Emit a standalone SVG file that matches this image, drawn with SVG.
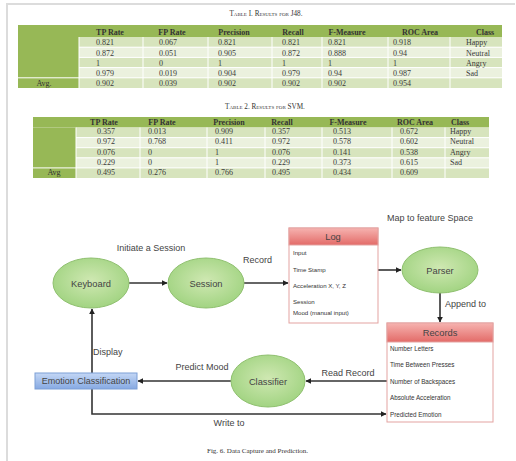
<svg xmlns="http://www.w3.org/2000/svg" width="516" height="461" viewBox="0 0 516 461">
  <defs>
    <radialGradient id="gEll" cx="50%" cy="45%" r="60%">
      <stop offset="0" stop-color="#cfe8b2"/>
      <stop offset="1" stop-color="#9ed27e"/>
    </radialGradient>
    <linearGradient id="gHead" x1="0" y1="0" x2="0" y2="1">
      <stop offset="0" stop-color="#f6b3b0"/>
      <stop offset="1" stop-color="#e36b68"/>
    </linearGradient>
    <linearGradient id="gBlue" x1="0" y1="0" x2="0" y2="1">
      <stop offset="0" stop-color="#c4d7f5"/>
      <stop offset="1" stop-color="#86a9e2"/>
    </linearGradient>
    <marker id="arr" viewBox="0 0 10 10" refX="9" refY="5" markerWidth="6" markerHeight="6" markerUnits="userSpaceOnUse" orient="auto">
      <path d="M0,0 L10,5 L0,10 z" fill="#222"/>
    </marker>
  </defs>
  <style>
    .frame { stroke: #dcdcdc; stroke-width: 2; fill: none; }
    .title { font-family: "Liberation Serif", serif; font-size: 7.2px; font-variant: small-caps; fill: #333; text-anchor: middle; }
    .cap { font-family: "Liberation Serif", serif; font-size: 7px; fill: #333; }
    .hd { font-family: "Liberation Serif", serif; font-size: 8px; font-weight: bold; fill: #333; text-anchor: middle; }
    .td { font-family: "Liberation Serif", serif; font-size: 8px; fill: #3a3a3a; }
    .tdc { font-family: "Liberation Serif", serif; font-size: 8px; fill: #333; text-anchor: middle; }
    .dark { fill: #97b856; }
    .lt1 { fill: #d7e4bd; }
    .lt2 { fill: #ebf1de; }
    .sep { stroke: #ffffff; stroke-width: 1; }
    .ell { fill: url(#gEll); stroke: #8fc06f; stroke-width: 1; }
    .nl { font-family: "Liberation Sans", Arial, sans-serif; font-size: 9.3px; fill: #444; text-anchor: middle; }
    .el { font-family: "Liberation Sans", Arial, sans-serif; font-size: 9px; fill: #444; }
    .row { font-family: "Liberation Sans", Arial, sans-serif; font-size: 6.1px; fill: #333; }
    .row2 { font-family: "Liberation Sans", Arial, sans-serif; font-size: 6.3px; fill: #333; }
    .box { fill: #ffffff; stroke: #e3a3a1; stroke-width: 1; }
    .head { fill: url(#gHead); stroke: #e3a3a1; stroke-width: 1; }
    .edge { stroke: #333; stroke-width: 1.6; fill: none; marker-end: url(#arr); }
  </style>

  <!-- page frame -->
  <path class="frame" d="M7,461 L7,4 L515,4"/>

  <!-- Table 1: J48 results -->
  <g id="table1">
    <text class="title" x="266" y="16">Table I. Results for J48.</text>
    <rect class="dark" x="18" y="25" width="484" height="12"/>
    <rect class="dark" x="18" y="37" width="61" height="51"/>
    <rect class="lt1" x="79" y="37" width="423" height="10.2"/>
    <rect class="lt2" x="79" y="47.2" width="423" height="10.2"/>
    <rect class="lt1" x="79" y="57.4" width="423" height="10.2"/>
    <rect class="lt2" x="79" y="67.6" width="423" height="10.2"/>
    <rect class="lt1" x="79" y="77.8" width="423" height="10.2"/>
    <g class="sep">
      <line x1="79" y1="47.2" x2="502" y2="47.2"/>
      <line x1="79" y1="57.4" x2="502" y2="57.4"/>
      <line x1="79" y1="67.6" x2="502" y2="67.6"/>
      <line x1="18" y1="77.8" x2="502" y2="77.8"/>
      <line x1="143" y1="37" x2="143" y2="88"/>
      <line x1="208" y1="37" x2="208" y2="88"/>
      <line x1="272" y1="37" x2="272" y2="88"/>
      <line x1="322" y1="37" x2="322" y2="88"/>
      <line x1="388" y1="37" x2="388" y2="88"/>
      <line x1="450" y1="37" x2="450" y2="88"/>
      <line x1="79" y1="37" x2="79" y2="88"/>
    </g>
    <text class="hd" x="110" y="34.5">TP Rate</text>
    <text class="hd" x="172" y="34.5">FP Rate</text>
    <text class="hd" x="234" y="34.5">Precision</text>
    <text class="hd" x="293" y="34.5">Recall</text>
    <text class="hd" x="347" y="34.5">F-Measure</text>
    <text class="hd" x="420" y="34.5">ROC Area</text>
    <text class="hd" x="485" y="34.5">Class</text>
    <g class="td">
      <text x="96" y="45.3">0.821</text><text x="159" y="45.3">0.067</text><text x="218" y="45.3">0.821</text><text x="282" y="45.3">0.821</text><text x="328" y="45.3">0.821</text><text x="393" y="45.3">0.918</text><text x="466" y="45.3">Happy</text>
      <text x="96" y="55.5">0.872</text><text x="159" y="55.5">0.051</text><text x="218" y="55.5">0.905</text><text x="282" y="55.5">0.872</text><text x="328" y="55.5">0.888</text><text x="393" y="55.5">0.94</text><text x="466" y="55.5">Neutral</text>
      <text x="96" y="65.7">1</text><text x="159" y="65.7">0</text><text x="218" y="65.7">1</text><text x="282" y="65.7">1</text><text x="328" y="65.7">1</text><text x="393" y="65.7">1</text><text x="466" y="65.7">Angry</text>
      <text x="96" y="75.9">0.979</text><text x="159" y="75.9">0.019</text><text x="218" y="75.9">0.904</text><text x="282" y="75.9">0.979</text><text x="328" y="75.9">0.94</text><text x="393" y="75.9">0.987</text><text x="466" y="75.9">Sad</text>
      <text x="96" y="86">0.902</text><text x="159" y="86">0.039</text><text x="218" y="86">0.902</text><text x="282" y="86">0.902</text><text x="328" y="86">0.902</text><text x="393" y="86">0.954</text>
    </g>
    <text class="tdc" x="44" y="86">Avg.</text>
  </g>

  <!-- Table 2: SVM results -->
  <g id="table2">
    <text class="title" x="265" y="109">Table 2. Results for SVM.</text>
    <rect class="dark" x="33" y="117" width="456" height="10.5"/>
    <rect class="dark" x="33" y="127.5" width="43" height="50.5"/>
    <rect class="lt1" x="76" y="127.5" width="413" height="10.1"/>
    <rect class="lt2" x="76" y="137.6" width="413" height="10.1"/>
    <rect class="lt1" x="76" y="147.7" width="413" height="10.1"/>
    <rect class="lt2" x="76" y="157.8" width="413" height="10.1"/>
    <rect class="lt1" x="76" y="167.9" width="413" height="10.1"/>
    <g class="sep">
      <line x1="76" y1="137.6" x2="489" y2="137.6"/>
      <line x1="76" y1="147.7" x2="489" y2="147.7"/>
      <line x1="76" y1="157.8" x2="489" y2="157.8"/>
      <line x1="33" y1="167.9" x2="489" y2="167.9"/>
      <line x1="140" y1="127.5" x2="140" y2="178"/>
      <line x1="207" y1="127.5" x2="207" y2="178"/>
      <line x1="265" y1="127.5" x2="265" y2="178"/>
      <line x1="322" y1="127.5" x2="322" y2="178"/>
      <line x1="392" y1="127.5" x2="392" y2="178"/>
      <line x1="445" y1="127.5" x2="445" y2="178"/>
      <line x1="76" y1="127.5" x2="76" y2="178"/>
    </g>
    <text class="hd" x="104" y="124.5">TP Rate</text>
    <text class="hd" x="162" y="124.5">FP Rate</text>
    <text class="hd" x="229" y="124.5">Precision</text>
    <text class="hd" x="282" y="124.5">Recall</text>
    <text class="hd" x="348" y="124.5">F-Measure</text>
    <text class="hd" x="415" y="124.5">ROC Area</text>
    <text class="hd" x="460" y="124.5">Class</text>
    <g class="td">
      <text x="97" y="134.3">0.357</text><text x="148" y="134.3">0.013</text><text x="215" y="134.3">0.909</text><text x="272" y="134.3">0.357</text><text x="333" y="134.3">0.513</text><text x="400" y="134.3">0.672</text><text x="450" y="134.3">Happy</text>
      <text x="97" y="144.4">0.972</text><text x="148" y="144.4">0.768</text><text x="215" y="144.4">0.411</text><text x="272" y="144.4">0.972</text><text x="333" y="144.4">0.578</text><text x="400" y="144.4">0.602</text><text x="450" y="144.4">Neutral</text>
      <text x="97" y="154.5">0.076</text><text x="148" y="154.5">0</text><text x="215" y="154.5">1</text><text x="272" y="154.5">0.076</text><text x="333" y="154.5">0.141</text><text x="400" y="154.5">0.538</text><text x="450" y="154.5">Angry</text>
      <text x="97" y="164.6">0.229</text><text x="148" y="164.6">0</text><text x="215" y="164.6">1</text><text x="272" y="164.6">0.229</text><text x="333" y="164.6">0.373</text><text x="400" y="164.6">0.615</text><text x="450" y="164.6">Sad</text>
      <text x="97" y="174.8">0.495</text><text x="148" y="174.8">0.276</text><text x="215" y="174.8">0.766</text><text x="272" y="174.8">0.495</text><text x="333" y="174.8">0.434</text><text x="400" y="174.8">0.609</text>
    </g>
    <text class="tdc" x="54" y="174.8">Avg</text>
  </g>

  <!-- connectors -->
  <g id="connectors">
    <path class="edge" d="M129,283 L167,283"/>
    <path class="edge" d="M244,283 L288,283"/>
    <path class="edge" d="M378,270 L401,270"/>
    <path class="edge" d="M440,293 L440,322"/>
    <path class="edge" d="M387,381 L306,381"/>
    <path class="edge" d="M231,381 L138,381"/>
    <path class="edge" d="M92,373 L92,309"/>
    <path class="edge" d="M92,389 L92,414 L386,414"/>
    <text class="el" x="151" y="251" text-anchor="middle">Initiate a Session</text>
    <text class="el" x="243" y="263">Record</text>
    <text class="el" x="430" y="221" text-anchor="middle">Map to feature Space</text>
    <text class="el" x="445" y="307">Append to</text>
    <text class="el" x="348" y="376" text-anchor="middle">Read Record</text>
    <text class="el" x="202" y="370" text-anchor="middle">Predict Mood</text>
    <text class="el" x="93" y="355">Display</text>
    <text class="el" x="229" y="426" text-anchor="middle">Write to</text>
  </g>

  <g id="keyboard">
    <ellipse class="ell" cx="91" cy="283" rx="38" ry="25"/>
    <text class="nl" x="91" y="286.5">Keyboard</text>
  </g>

  <g id="session">
    <ellipse class="ell" cx="206" cy="283" rx="38" ry="25"/>
    <text class="nl" x="206" y="286.5">Session</text>
  </g>

  <g id="log">
    <rect class="box" x="289" y="228" width="89" height="95"/>
    <rect class="head" x="289" y="228" width="89" height="17"/>
    <text class="nl" x="333" y="240">Log</text>
    <text class="row" x="293" y="255">Input</text>
    <text class="row" x="293" y="272">Time Stamp</text>
    <text class="row" x="293" y="288">Acceleration X, Y, Z</text>
    <text class="row" x="293" y="304">Session</text>
    <text class="row" x="293" y="315">Mood (manual input)</text>
  </g>

  <g id="parser">
    <ellipse class="ell" cx="440" cy="270" rx="38" ry="23"/>
    <text class="nl" x="440" y="273.5">Parser</text>
  </g>

  <g id="records">
    <rect class="box" x="387" y="323" width="106" height="99"/>
    <rect class="head" x="387" y="323" width="106" height="19"/>
    <text class="nl" x="440" y="336">Records</text>
    <text class="row2" x="390" y="350.5">Number Letters</text>
    <text class="row2" x="390" y="367">Time Between Presses</text>
    <text class="row2" x="390" y="383.5">Number of Backspaces</text>
    <text class="row2" x="390" y="400">Absolute Acceleration</text>
    <text class="row2" x="390" y="416.5">Predicted Emotion</text>
  </g>

  <g id="classifier">
    <ellipse class="ell" cx="268" cy="381" rx="37" ry="26"/>
    <text class="nl" x="268" y="384.5">Classifier</text>
  </g>

  <g id="emotion-classification">
    <rect x="35" y="373" width="102" height="16" fill="url(#gBlue)" stroke="#7c9fd6" stroke-width="1"/>
    <text class="nl" x="86" y="384.3" style="font-size:9px">Emotion Classification</text>
  </g>

  <text class="cap" x="207" y="453">Fig. 6. Data Capture and Prediction.</text>
</svg>
